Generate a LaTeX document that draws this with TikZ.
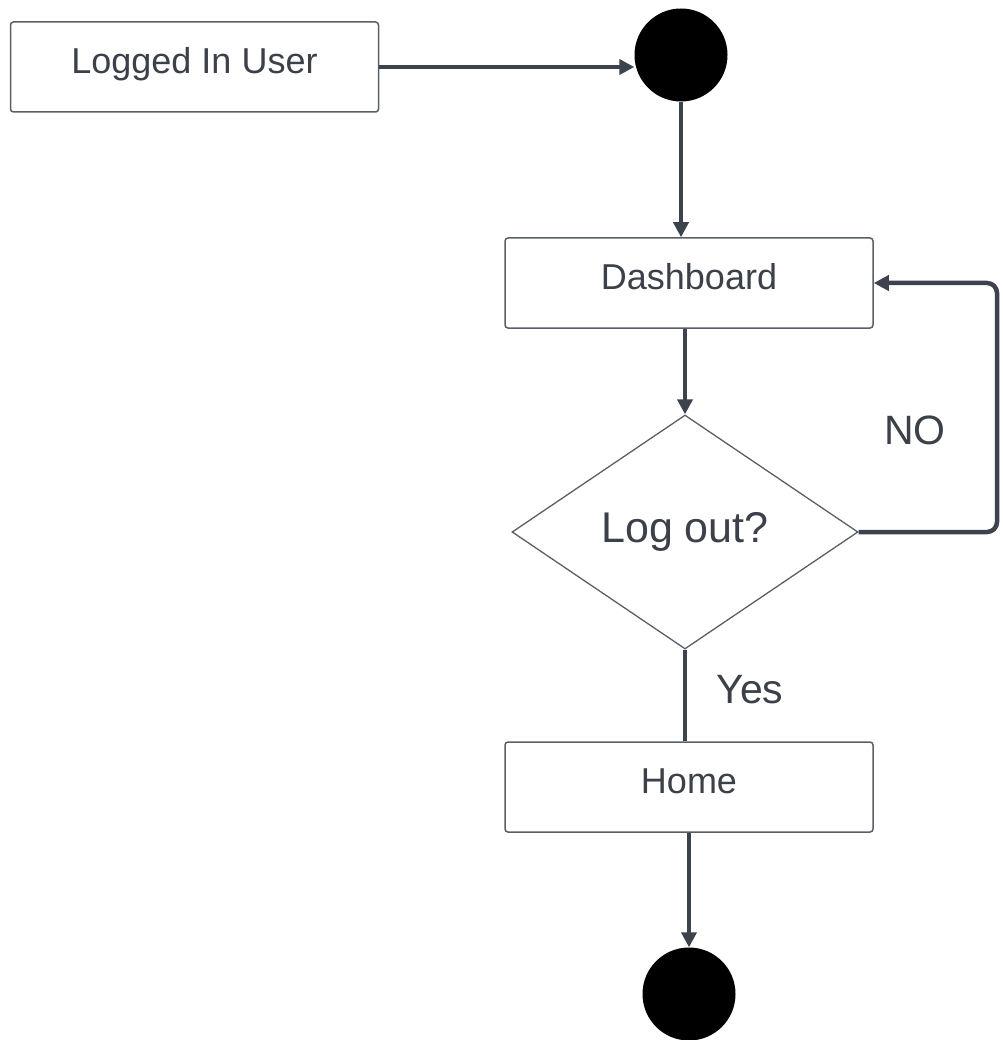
\documentclass[tikz,border=0pt]{standalone}
\usepackage{fontspec}
\setmainfont{Liberation Sans}
\usetikzlibrary{shapes.geometric,arrows.meta}
\definecolor{ink}{HTML}{3B4049}
\definecolor{wire}{HTML}{3D434D}
\definecolor{edge}{HTML}{5A5F66}
\tikzset{
  boxnode/.style={draw=edge, line width=1.5pt, rounded corners=3pt, fill=white,
    minimum width=368pt, minimum height=90pt, inner sep=0pt, text=ink,
    text height=26pt, text depth=13pt,
    font=\fontsize{36}{40}\selectfont},
  dotnode/.style={circle, fill=black, draw=none, minimum size=93pt, inner sep=0pt},
  decnode/.style={diamond, draw=edge, line width=1.3pt, fill=white,
    minimum width=346pt, minimum height=234pt, inner sep=0pt, text=ink,
    font=\fontsize{43}{46}\selectfont},
  lbl/.style={text=ink, inner sep=0pt, font=\fontsize{41}{44}\selectfont},
  conn/.style={draw=wire, line width=4.5pt, -{Triangle[length=15pt,width=15pt]}},
  plain/.style={draw=wire, line width=4.5pt}
}
\begin{document}
\begin{tikzpicture}[x=1pt,y=-1pt]
\useasboundingbox (0,0) rectangle (1002,1040);
\node[boxnode] (lu) at (194.5,67) {Logged In User};
\node[dotnode] (start) at (681,55) {};
\node[boxnode] (dash) at (689,283) {Dashboard};
\node[decnode] (dec) at (685,532) {Log out?};
\node[boxnode] (home) at (689,787) {Home};
\node[dotnode] (end) at (689,994) {};
\node[lbl] (no) at (915,430) {NO};
\node[lbl] (yes) at (750,690) {Yes};
\coordinate (c1) at (997,532);
\coordinate (c2) at (997,283);
\draw[conn] (lu.east) -- (lu.east -| start.west);
\draw[conn] (start.south) -- (start.south |- dash.north);
\draw[conn] (dash.south -| dec.north) -- (dec.north);
\draw[conn, rounded corners=10pt] (dec.east) -- (c1) -- (c2) -- (dash.east);
\draw[plain] (dec.south) -- (dec.south |- home.north);
\draw[conn] (home.south -| end.north) -- (end.north);
\end{tikzpicture}
\end{document}
